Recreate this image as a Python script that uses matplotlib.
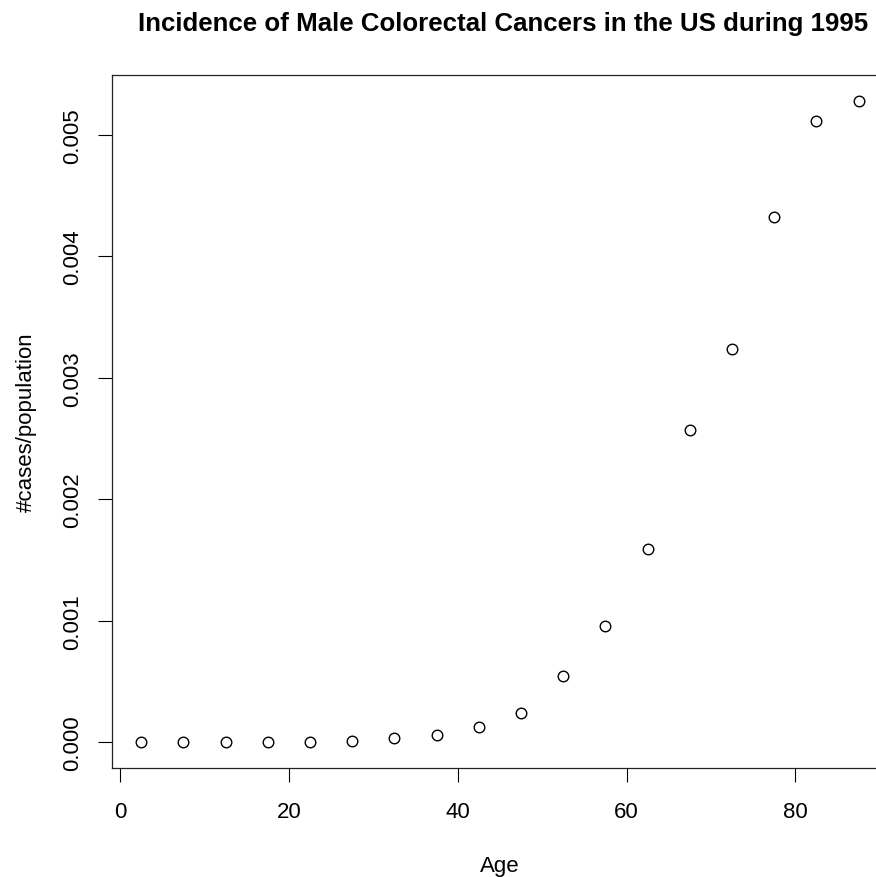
import matplotlib
matplotlib.use("Agg")
import matplotlib.pyplot as plt

# age group midpoints and incidence (#cases / population)
ages = [2.5, 7.5, 12.5, 17.5, 22.5, 27.5, 32.5, 37.5, 42.5,
        47.5, 52.5, 57.5, 62.5, 67.5, 72.5, 77.5, 82.5, 87.5]
rates = [0.000001, 0.000001, 0.000002, 0.000004, 0.000005, 0.000012,
         0.000033, 0.000060, 0.000128, 0.000241, 0.000545, 0.000959,
         0.001590, 0.002570, 0.003240, 0.004320, 0.005110, 0.005280]
x_ticks = [0, 20, 40, 60, 80]
y_ticks = [0.000, 0.001, 0.002, 0.003, 0.004, 0.005]

plt.rcParams["font.family"] = ["Liberation Sans", "DejaVu Sans"]

fig = plt.figure(figsize=(8.76, 8.78), dpi=100)
# R-style plot region; runs past the right edge like the original
ax = fig.add_axes([112.4 / 876, 109 / 878, 775 / 876, 693 / 878])

ax.plot(ages, rates, linestyle="none", marker="o", markersize=7.6,
        markerfacecolor="none", markeredgecolor="black", markeredgewidth=1.0)
ax.margins(x=0.04, y=0.04)

ax.set_xticks(x_ticks)
ax.set_xticklabels([str(t) for t in x_ticks])
ax.set_yticks(y_ticks)
ax.set_yticklabels([f"{t:.3f}" for t in y_ticks], rotation=90, va="center")
ax.tick_params(length=10, width=0.8, labelsize=16, color="black")
ax.tick_params(axis="x", pad=14)
ax.tick_params(axis="y", pad=11)

for sp in ax.spines.values():
    sp.set_linewidth(0.9)
    sp.set_color("#222222")

ax.set_xlabel("Age", fontsize=16)
ax.set_ylabel("#cases/population", fontsize=16)
ax.xaxis.set_label_coords(0.5, (769 - 867) / 693)
ax.xaxis.label.set_va("center")
ax.yaxis.set_label_coords((26 - 112.4) / 775, 0.5)
ax.yaxis.label.set_va("center")

ax.set_title("Incidence of Male Colorectal Cancers in the US during 1995",
             fontsize=18.6, fontweight="bold", y=(769 - 31) / 693, pad=0,
             x=(503.5 - 112.4) / 775)

fig.savefig("out.png", dpi=100)
